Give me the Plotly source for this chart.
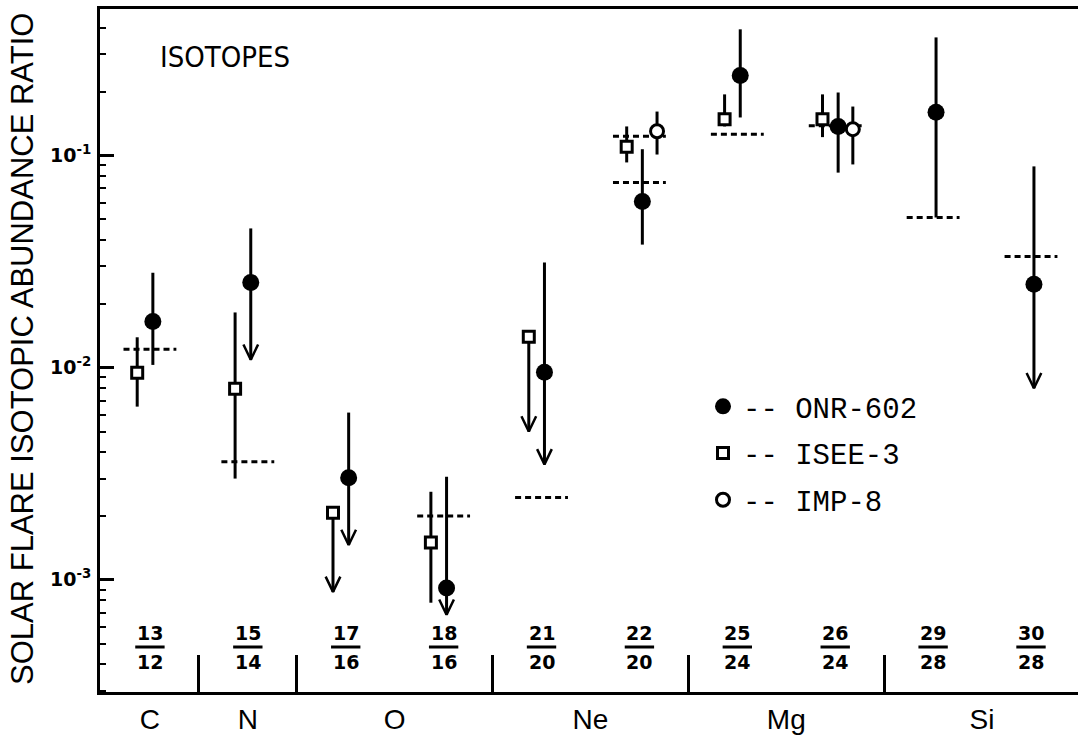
import numpy as np
import plotly.graph_objects as go

# ---------------- data ----------------
ratio_num = ["13", "15", "17", "18", "21", "22", "25", "26", "29", "30"]
ratio_den = ["12", "14", "16", "16", "20", "20", "24", "24", "28", "28"]
ratio_element = ["C", "N", "O", "O", "Ne", "Ne", "Mg", "Mg", "Si", "Si"]
elements = ["C", "N", "O", "Ne", "Mg", "Si"]

# ONR-602 (filled circles)
onr_cat = [0, 1, 2, 3, 4, 5, 6, 7, 8, 9]
onr_val = [0.0165, 0.0252, 0.00303, 0.000916, 0.0095, 0.0607, 0.238, 0.137, 0.160, 0.0247]
onr_hi = [0.028, 0.0453, 0.00614, 0.00306, 0.0313, 0.107, 0.393, 0.198, 0.360, 0.0888]
onr_lo = [0.0103, 0.0109, 0.00146, 0.000684, 0.0035, 0.038, 0.151, 0.083, 0.051, 0.0080]
onr_limit = [False, True, True, True, True, False, False, False, False, True]

# ISEE-3 (open squares)
isee_cat = [0, 1, 2, 3, 4, 5, 6, 7]
isee_val = [0.00946, 0.00796, 0.00207, 0.00150, 0.0140, 0.110, 0.148, 0.148]
isee_hi = [0.0139, 0.0182, 0.00207, 0.00260, 0.0140, 0.137, 0.194, 0.194]
isee_lo = [0.00655, 0.0030, 0.000877, 0.00078, 0.0050, 0.0927, 0.137, 0.122]
isee_limit = [False, False, True, False, True, False, False, False]

# IMP-8 (open circles)
imp_cat = [5, 7]
imp_val = [0.130, 0.133]
imp_hi = [0.161, 0.170]
imp_lo = [0.101, 0.0907]

# solar-system reference values (dashed bars)
solar_cat = [0, 1, 3, 4, 5, 5, 6, 7, 8, 9]
solar_val = [0.0122, 0.0036, 0.0020, 0.00244, 0.123, 0.0746, 0.126, 0.138, 0.051, 0.0334]

# ---------------- helpers ----------------
X_RANGE = [-0.51, 9.48]
Y_RANGE = [np.log10(2.96e-4), np.log10(0.49)]


def offs(cats, d):
    return [c + d for c in cats]


def err(val, hi, lo):
    v, h, l = np.array(val), np.array(hi), np.array(lo)
    return dict(type="data", symmetric=False, array=list(h - v), arrayminus=list(v - l),
                thickness=3, width=0, color="black")


def chevrons(xs, tips, flags):
    cx, cy = [], []
    for x, t, f in zip(xs, tips, flags):
        if f:
            cx += [x - 0.075, x, x + 0.075, None]
            cy += [t * 1.18, t, t * 1.18, None]
    return cx, cy


fig = go.Figure()

ONR_D, ISEE_D, IMP_D = 0.03, -0.13, 0.18

# dashed reference values
sx, sy = [], []
for c, v in zip(solar_cat, solar_val):
    sx += [c - 0.27, c + 0.27, None]
    sy += [v, v, None]
fig.add_trace(go.Scatter(x=sx, y=sy, mode="lines", showlegend=False, hoverinfo="skip",
                         line=dict(color="black", width=3, dash="6px,4px")))

# upper-limit arrowheads
for cats, d, lo, fl in [(onr_cat, ONR_D, onr_lo, onr_limit), (isee_cat, ISEE_D, isee_lo, isee_limit)]:
    cx, cy = chevrons(offs(cats, d), lo, fl)
    fig.add_trace(go.Scatter(x=cx, y=cy, mode="lines", showlegend=False, hoverinfo="skip",
                             line=dict(color="black", width=2.5)))

fig.add_trace(go.Scatter(
    x=offs(onr_cat, ONR_D), y=onr_val, mode="markers", name="-- ONR-602", legendgroup="a",
    error_y=err(onr_val, onr_hi, onr_lo),
    marker=dict(symbol="circle", size=17, color="black")))
fig.add_trace(go.Scatter(
    x=offs(isee_cat, ISEE_D), y=isee_val, mode="markers", name="-- ISEE-3", legendgroup="b",
    error_y=err(isee_val, isee_hi, isee_lo),
    marker=dict(symbol="square", size=11, color="white", line=dict(color="black", width=3))))
fig.add_trace(go.Scatter(
    x=offs(imp_cat, IMP_D), y=imp_val, mode="markers", name="-- IMP-8", legendgroup="c",
    error_y=err(imp_val, imp_hi, imp_lo),
    marker=dict(symbol="circle", size=13, color="white", line=dict(color="black", width=3))))

# element centres and boundaries
idx = np.arange(len(ratio_element))
el_centres = [float(idx[[e == el for e in ratio_element]].mean()) for el in elements]
boundaries = [i + 0.5 for i in range(len(ratio_element) - 1) if ratio_element[i] != ratio_element[i + 1]]

major = [1e-3, 1e-2, 1e-1]
minor_vals = [m * 10.0 ** p for p in range(-4, 0) for m in range(2, 10)]

L, R, T, B = 100, 1, 9, 49
H = 741 - T - B
W = 1079 - L - R


def py(pix):
    return (741 - B - pix) / H


def px(pix):
    return (pix - L) / W


digit_font = dict(family="DejaVu Sans", size=19, color="black", weight="bold")
annotations = []
shapes = []
for i, (n, d) in enumerate(zip(ratio_num, ratio_den)):
    annotations.append(dict(x=i, y=py(633), xref="x", yref="paper", text=n, showarrow=False,
                            xanchor="center", yanchor="middle", font=digit_font))
    annotations.append(dict(x=i, y=py(662), xref="x", yref="paper", text=d, showarrow=False,
                            xanchor="center", yanchor="middle", font=digit_font))
    shapes.append(dict(type="line", xref="x", yref="paper", x0=i - 0.15, x1=i + 0.15,
                       y0=py(647), y1=py(647), line=dict(color="black", width=3)))

annotations.append(dict(x=px(225), y=py(57), xref="paper", yref="paper", text="ISOTOPES",
                        showarrow=False, xanchor="center", yanchor="middle",
                        font=dict(family="Liberation Sans Narrow, DejaVu Sans Condensed, Liberation Sans",
                                  size=29, color="black")))
annotations.append(dict(x=px(22), y=py(349), xref="paper", yref="paper",
                        text="SOLAR FLARE ISOTOPIC ABUNDANCE RATIO", textangle=-90, showarrow=False,
                        xanchor="center", yanchor="middle",
                        font=dict(family="Liberation Sans", size=31, color="black")))

fig.update_layout(
    width=1079, height=741,
    margin=dict(l=L, r=R, t=T, b=B),
    paper_bgcolor="white", plot_bgcolor="white",
    showlegend=True,
    legend=dict(x=px(703), y=py(381), xanchor="left", yanchor="top",
                bgcolor="rgba(0,0,0,0)", tracegroupgap=6,
                font=dict(family="Liberation Mono", size=29, color="black")),
    annotations=annotations,
    shapes=shapes,
    xaxis=dict(range=X_RANGE, tickmode="array", tickvals=el_centres, ticktext=elements,
               ticks="", showgrid=False, zeroline=False, showline=True, linewidth=3,
               linecolor="black", mirror=True, ticklabelstandoff=0,
               minor=dict(tickmode="array", tickvals=boundaries, ticks="inside", ticklen=37,
                          tickwidth=2.5, tickcolor="black", showgrid=False),
               tickfont=dict(family="Liberation Sans", size=28, color="black")),
    yaxis=dict(type="log", range=Y_RANGE, tickmode="array", tickvals=major,
               ticktext=["10<sup>-3</sup>", "10<sup>-2</sup>", "10<sup>-1</sup>"],
               ticks="inside", ticklen=14, tickwidth=2.5, tickcolor="black",
               minor=dict(tickmode="array", tickvals=minor_vals, ticks="inside", ticklen=6,
                          tickwidth=2, tickcolor="black", showgrid=False),
               showgrid=False, zeroline=False, showline=True, linewidth=3, linecolor="black",
               ticklabelstandoff=2,
               tickfont=dict(family="DejaVu Sans", size=19, color="black", weight="bold")),
    yaxis2=dict(type="log", range=Y_RANGE, overlaying="y", anchor="x", side="right",
                tickmode="array", tickvals=major, ticks="inside", ticklen=8, tickwidth=2.5,
                tickcolor="black", showticklabels=False,
                minor=dict(tickmode="array", tickvals=minor_vals, ticks="inside", ticklen=4,
                           tickwidth=2, tickcolor="black", showgrid=False),
                showgrid=False, zeroline=False, showline=False),
)

fig.write_html("out.html", config={"displayModeBar": False},
               post_script="document.body.style.margin='0';")
